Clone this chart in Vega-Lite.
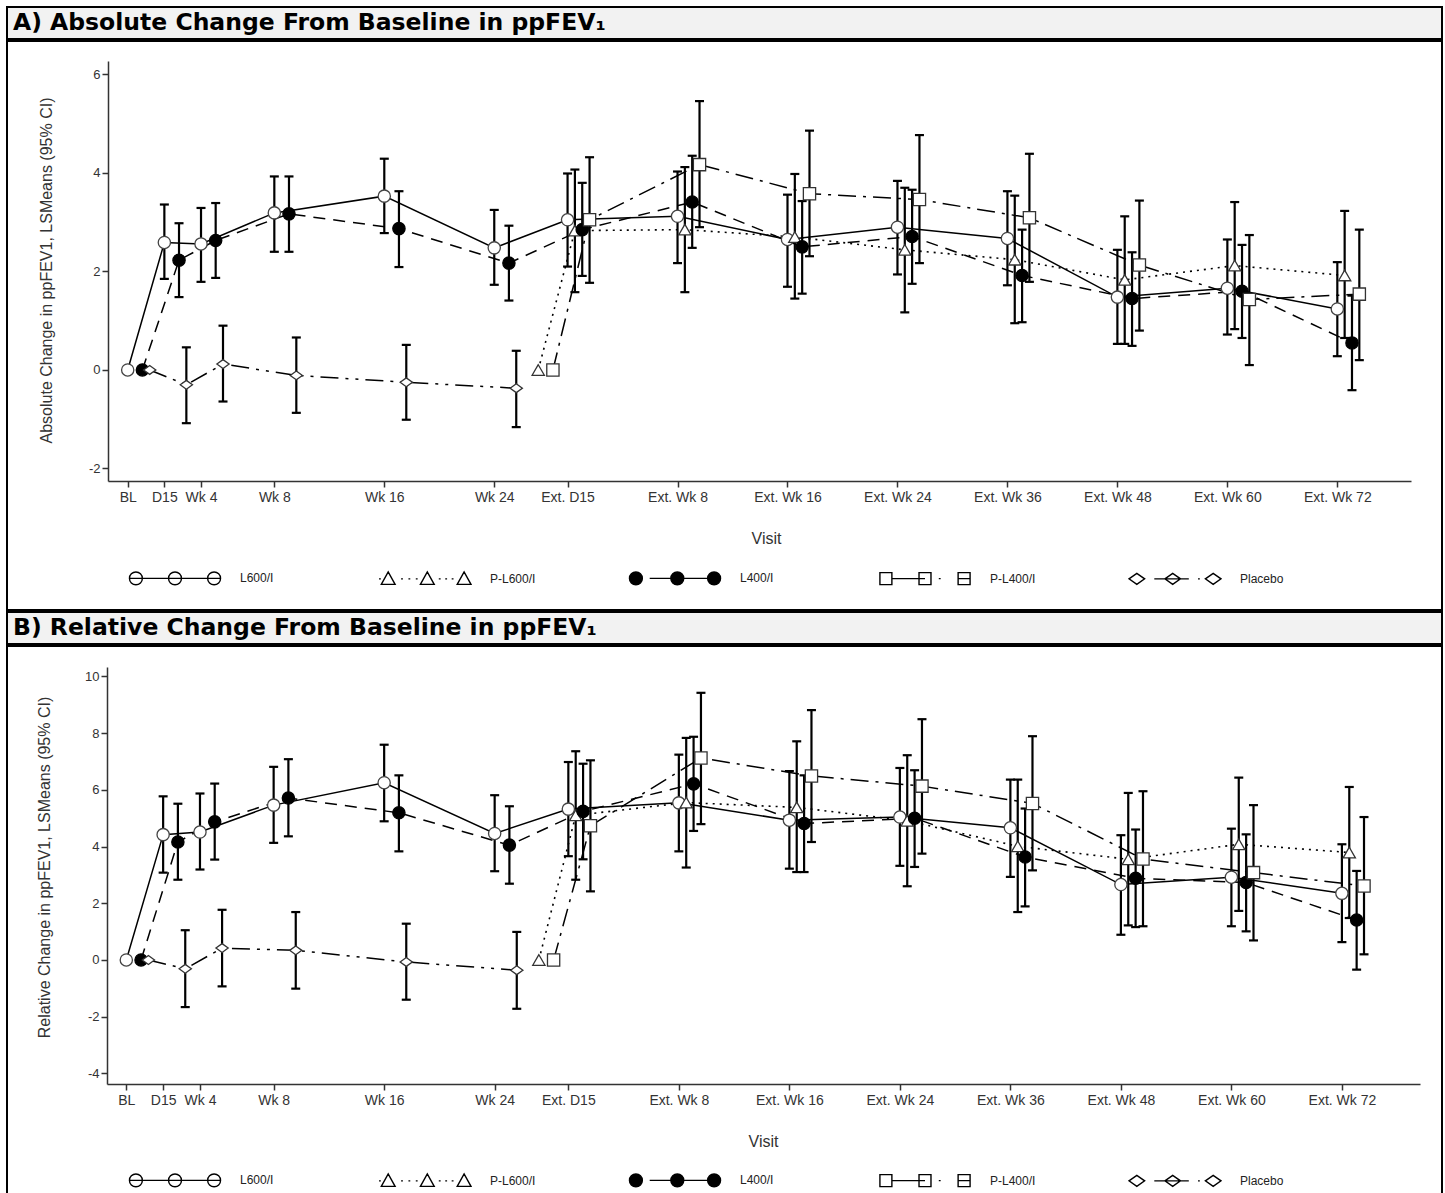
{
 "$schema": "https://vega.github.io/schema/vega-lite/v6.json",
 "background": "white",
 "padding": {"left": 6, "top": 6, "right": 4, "bottom": 0},
 "spacing": 0,
 "resolve": {
  "scale": {"shape": "independent", "fill": "independent", "stroke": "independent"},
  "legend": {"shape": "independent", "fill": "independent", "stroke": "independent"}
 },
 "datasets": {
  "absA": [
   {"g":"L600/I","t":0,"m":0},
   {"g":"L600/I","t":1,"m":2.59,"lo":1.85,"hi":3.36},
   {"g":"L600/I","t":2,"m":2.56,"lo":1.79,"hi":3.29},
   {"g":"L600/I","t":4,"m":3.19,"lo":2.40,"hi":3.93},
   {"g":"L600/I","t":7,"m":3.53,"lo":2.78,"hi":4.29},
   {"g":"L600/I","t":10,"m":2.48,"lo":1.73,"hi":3.25},
   {"g":"L600/I","t":12,"m":3.05,"lo":2.10,"hi":3.99},
   {"g":"L600/I","t":15,"m":3.12,"lo":2.17,"hi":4.03},
   {"g":"L600/I","t":18,"m":2.65,"lo":1.69,"hi":3.56},
   {"g":"L600/I","t":21,"m":2.90,"lo":1.94,"hi":3.84},
   {"g":"L600/I","t":24,"m":2.67,"lo":1.72,"hi":3.63},
   {"g":"L600/I","t":27,"m":1.48,"lo":0.53,"hi":2.44},
   {"g":"L600/I","t":30,"m":1.66,"lo":0.72,"hi":2.65},
   {"g":"L600/I","t":33,"m":1.24,"lo":0.28,"hi":2.19},
   {"g":"P-L600/I","t":11.2,"m":0},
   {"g":"P-L600/I","t":12.2,"m":2.83,"lo":1.58,"hi":4.07},
   {"g":"P-L600/I","t":15.2,"m":2.85,"lo":1.58,"hi":4.12},
   {"g":"P-L600/I","t":18.2,"m":2.70,"lo":1.45,"hi":3.98},
   {"g":"P-L600/I","t":21.2,"m":2.44,"lo":1.17,"hi":3.70},
   {"g":"P-L600/I","t":24.2,"m":2.24,"lo":0.95,"hi":3.54},
   {"g":"P-L600/I","t":27.2,"m":1.83,"lo":0.53,"hi":3.12},
   {"g":"P-L600/I","t":30.2,"m":2.12,"lo":0.83,"hi":3.41},
   {"g":"P-L600/I","t":33.2,"m":1.92,"lo":0.65,"hi":3.23},
   {"g":"L400/I","t":0.4,"m":0},
   {"g":"L400/I","t":1.4,"m":2.23,"lo":1.48,"hi":2.98},
   {"g":"L400/I","t":2.4,"m":2.63,"lo":1.87,"hi":3.39},
   {"g":"L400/I","t":4.4,"m":3.17,"lo":2.40,"hi":3.93},
   {"g":"L400/I","t":7.4,"m":2.87,"lo":2.09,"hi":3.63},
   {"g":"L400/I","t":10.4,"m":2.17,"lo":1.41,"hi":2.93},
   {"g":"L400/I","t":12.4,"m":2.85,"lo":1.91,"hi":3.80},
   {"g":"L400/I","t":15.4,"m":3.41,"lo":2.48,"hi":4.35},
   {"g":"L400/I","t":18.4,"m":2.50,"lo":1.55,"hi":3.43},
   {"g":"L400/I","t":21.4,"m":2.71,"lo":1.75,"hi":3.66},
   {"g":"L400/I","t":24.4,"m":1.92,"lo":0.97,"hi":2.85},
   {"g":"L400/I","t":27.4,"m":1.45,"lo":0.49,"hi":2.39},
   {"g":"L400/I","t":30.4,"m":1.60,"lo":0.65,"hi":2.54},
   {"g":"L400/I","t":33.4,"m":0.55,"lo":-0.41,"hi":1.51},
   {"g":"P-L400/I","t":11.6,"m":0},
   {"g":"P-L400/I","t":12.6,"m":3.05,"lo":1.77,"hi":4.32},
   {"g":"P-L400/I","t":15.6,"m":4.17,"lo":2.90,"hi":5.46},
   {"g":"P-L400/I","t":18.6,"m":3.58,"lo":2.31,"hi":4.86},
   {"g":"P-L400/I","t":21.6,"m":3.46,"lo":2.17,"hi":4.77},
   {"g":"P-L400/I","t":24.6,"m":3.09,"lo":1.79,"hi":4.39},
   {"g":"P-L400/I","t":27.6,"m":2.13,"lo":0.80,"hi":3.44},
   {"g":"P-L400/I","t":30.6,"m":1.43,"lo":0.10,"hi":2.74},
   {"g":"P-L400/I","t":33.6,"m":1.54,"lo":0.20,"hi":2.85},
   {"g":"Placebo","t":0.6,"m":0},
   {"g":"Placebo","t":1.6,"m":-0.30,"lo":-1.08,"hi":0.46},
   {"g":"Placebo","t":2.6,"m":0.12,"lo":-0.64,"hi":0.90},
   {"g":"Placebo","t":4.6,"m":-0.11,"lo":-0.87,"hi":0.66},
   {"g":"Placebo","t":7.6,"m":-0.25,"lo":-1.01,"hi":0.51},
   {"g":"Placebo","t":10.6,"m":-0.37,"lo":-1.16,"hi":0.39}
  ],
  "relB": [
   {"g":"L600/I","t":0,"m":0},
   {"g":"L600/I","t":1,"m":4.42,"lo":3.08,"hi":5.77},
   {"g":"L600/I","t":2,"m":4.51,"lo":3.19,"hi":5.87},
   {"g":"L600/I","t":4,"m":5.46,"lo":4.13,"hi":6.81},
   {"g":"L600/I","t":7,"m":6.25,"lo":4.89,"hi":7.59},
   {"g":"L600/I","t":10,"m":4.46,"lo":3.13,"hi":5.81},
   {"g":"L600/I","t":12,"m":5.32,"lo":3.66,"hi":6.98},
   {"g":"L600/I","t":15,"m":5.54,"lo":3.83,"hi":7.24},
   {"g":"L600/I","t":18,"m":4.93,"lo":3.22,"hi":6.66},
   {"g":"L600/I","t":21,"m":5.04,"lo":3.32,"hi":6.77},
   {"g":"L600/I","t":24,"m":4.66,"lo":2.93,"hi":6.36},
   {"g":"L600/I","t":27,"m":2.66,"lo":0.89,"hi":4.40},
   {"g":"L600/I","t":30,"m":2.92,"lo":1.19,"hi":4.63},
   {"g":"L600/I","t":33,"m":2.35,"lo":0.63,"hi":4.08},
   {"g":"P-L600/I","t":11.2,"m":0},
   {"g":"P-L600/I","t":12.2,"m":5.10,"lo":2.83,"hi":7.36},
   {"g":"P-L600/I","t":15.2,"m":5.55,"lo":3.26,"hi":7.83},
   {"g":"P-L600/I","t":18.2,"m":5.38,"lo":3.10,"hi":7.71},
   {"g":"P-L600/I","t":21.2,"m":4.91,"lo":2.60,"hi":7.22},
   {"g":"P-L600/I","t":24.2,"m":4.01,"lo":1.69,"hi":6.36},
   {"g":"P-L600/I","t":27.2,"m":3.55,"lo":1.22,"hi":5.89},
   {"g":"P-L600/I","t":30.2,"m":4.08,"lo":1.73,"hi":6.43},
   {"g":"P-L600/I","t":33.2,"m":3.79,"lo":1.48,"hi":6.10},
   {"g":"L400/I","t":0.4,"m":0},
   {"g":"L400/I","t":1.4,"m":4.16,"lo":2.83,"hi":5.51},
   {"g":"L400/I","t":2.4,"m":4.87,"lo":3.54,"hi":6.22},
   {"g":"L400/I","t":4.4,"m":5.71,"lo":4.36,"hi":7.08},
   {"g":"L400/I","t":7.4,"m":5.19,"lo":3.83,"hi":6.51},
   {"g":"L400/I","t":10.4,"m":4.05,"lo":2.69,"hi":5.42},
   {"g":"L400/I","t":12.4,"m":5.24,"lo":3.55,"hi":6.92},
   {"g":"L400/I","t":15.4,"m":6.21,"lo":4.55,"hi":7.87},
   {"g":"L400/I","t":18.4,"m":4.81,"lo":3.10,"hi":6.51},
   {"g":"L400/I","t":21.4,"m":5.00,"lo":3.28,"hi":6.69},
   {"g":"L400/I","t":24.4,"m":3.63,"lo":1.89,"hi":5.34},
   {"g":"L400/I","t":27.4,"m":2.88,"lo":1.16,"hi":4.60},
   {"g":"L400/I","t":30.4,"m":2.73,"lo":1.01,"hi":4.43},
   {"g":"L400/I","t":33.4,"m":1.41,"lo":-0.34,"hi":3.14},
   {"g":"P-L400/I","t":11.6,"m":0},
   {"g":"P-L400/I","t":12.6,"m":4.73,"lo":2.42,"hi":7.04},
   {"g":"P-L400/I","t":15.6,"m":7.12,"lo":4.79,"hi":9.42},
   {"g":"P-L400/I","t":18.6,"m":6.49,"lo":4.16,"hi":8.81},
   {"g":"P-L400/I","t":21.6,"m":6.13,"lo":3.75,"hi":8.49},
   {"g":"P-L400/I","t":24.6,"m":5.52,"lo":3.16,"hi":7.89},
   {"g":"P-L400/I","t":27.6,"m":3.56,"lo":1.19,"hi":5.95},
   {"g":"P-L400/I","t":30.6,"m":3.08,"lo":0.69,"hi":5.46},
   {"g":"P-L400/I","t":33.6,"m":2.61,"lo":0.20,"hi":5.04},
   {"g":"Placebo","t":0.6,"m":0},
   {"g":"Placebo","t":1.6,"m":-0.31,"lo":-1.66,"hi":1.05},
   {"g":"Placebo","t":2.6,"m":0.42,"lo":-0.93,"hi":1.77},
   {"g":"Placebo","t":4.6,"m":0.34,"lo":-1.01,"hi":1.69},
   {"g":"Placebo","t":7.6,"m":-0.07,"lo":-1.40,"hi":1.28},
   {"g":"Placebo","t":10.6,"m":-0.36,"lo":-1.72,"hi":0.99}
  ]
 },
 "vconcat": [
  {
   "width": 1435, "height": 32,
   "view": {"fill": "#f2f2f2", "stroke": "black", "strokeWidth": 2},
   "data": {"values": [{"label": "A) Absolute Change From Baseline in ppFEV₁"}]},
   "mark": {"type": "text", "align": "left", "baseline": "middle", "font": "DejaVu Sans", "fontWeight": "bold", "fontSize": 23.5, "dx": 6, "color": "black"},
   "encoding": {
    "text": {"field": "label"},
    "x": {"datum": 0, "type": "quantitative", "scale": {"domain": [0, 1]}, "axis": null},
    "y": {"datum": 0.5, "type": "quantitative", "scale": {"domain": [0, 1]}, "axis": null}
   }
  },
  {
   "width": 1435, "height": 569,
   "view": {"stroke": "black", "strokeWidth": 2},
   "data": {"name": "absA"},
   "encoding": {
    "x": {"field": "t", "type": "quantitative",
     "scale": {"domain": [-0.5375, 35.01], "range": [101, 1404], "nice": false, "zero": false},
     "axis": {"values": [0,1,2,4,7,10,12,15,18,21,24,27,30,33],
      "labelExpr": "datum.value==0?'BL':datum.value==1?'D15':datum.value==2?'Wk 4':datum.value==4?'Wk 8':datum.value==7?'Wk 16':datum.value==10?'Wk 24':datum.value==12?'Ext. D15':datum.value==15?'Ext. Wk 8':datum.value==18?'Ext. Wk 16':datum.value==21?'Ext. Wk 24':datum.value==24?'Ext. Wk 36':datum.value==27?'Ext. Wk 48':datum.value==30?'Ext. Wk 60':'Ext. Wk 72'",
      "offset": -129, "title": "Visit", "titleX": 759, "titleY": 57, "titleAlign": "center", "titleBaseline": "middle",
      "labelFlush": false, "labelOverlap": false, "labelBound": false, "labelPadding": 3}},
    "y": {"field": "m", "type": "quantitative",
     "scale": {"domain": [-2.254, 6.274], "range": [440, 20], "nice": false, "zero": false},
     "axis": {"values": [-2,0,2,4,6], "labelExpr": "'' + datum.value", "offset": -101, "title": "Absolute Change in ppFEV1, LSMeans (95% CI)",
      "titleX": -62, "titleY": 229, "titleAlign": "center", "titleBaseline": "middle", "titleAngle": -90}}
   },
   "layer": [
    {"transform": [{"filter": "datum.g === 'L600/I'"}], "mark": {"type": "line", "color": "black", "strokeWidth": 1.5}},
    {"transform": [{"filter": "datum.g === 'P-L600/I'"}], "mark": {"type": "line", "color": "black", "strokeWidth": 1.6, "strokeDash": [2, 5]}},
    {"transform": [{"filter": "datum.g === 'L400/I'"}], "mark": {"type": "line", "color": "black", "strokeWidth": 1.5, "strokeDash": [12, 8]}},
    {"transform": [{"filter": "datum.g === 'P-L400/I'"}], "mark": {"type": "line", "color": "black", "strokeWidth": 1.5, "strokeDash": [18, 7, 3, 7]}},
    {"transform": [{"filter": "datum.g === 'Placebo'"}], "mark": {"type": "line", "color": "black", "strokeWidth": 1.5, "strokeDash": [18, 7, 3, 7, 3, 7]}},
    {
     "transform": [{"filter": "isValid(datum.lo)"}],
     "mark": {"type": "rule", "color": "black", "strokeWidth": 2.2},
     "encoding": {"y": {"field": "lo", "type": "quantitative"}, "y2": {"field": "hi"}}
    },
    {
     "transform": [{"filter": "isValid(datum.lo)"}],
     "mark": {"type": "tick", "orient": "horizontal", "color": "black", "size": 9, "thickness": 2.2, "opacity": 1},
     "encoding": {"y": {"field": "lo", "type": "quantitative"}}
    },
    {
     "transform": [{"filter": "isValid(datum.lo)"}],
     "mark": {"type": "tick", "orient": "horizontal", "color": "black", "size": 9, "thickness": 2.2, "opacity": 1},
     "encoding": {"y": {"field": "hi", "type": "quantitative"}}
    },
    {"transform": [{"filter": "datum.g === 'L600/I'"}], "mark": {"type": "point", "shape": "circle", "filled": true, "fill": "white", "stroke": "#444", "strokeWidth": 1.3, "size": 150, "opacity": 1}},
    {"transform": [{"filter": "datum.g === 'P-L600/I'"}], "mark": {"type": "point", "shape": "triangle-up", "filled": true, "fill": "white", "stroke": "#333", "strokeWidth": 1.3, "size": 150, "opacity": 1}},
    {"transform": [{"filter": "datum.g === 'L400/I'"}], "mark": {"type": "point", "shape": "circle", "filled": true, "fill": "black", "stroke": "black", "strokeWidth": 1.3, "size": 150, "opacity": 1}},
    {"transform": [{"filter": "datum.g === 'P-L400/I'"}], "mark": {"type": "point", "shape": "square", "filled": true, "fill": "white", "stroke": "#333", "strokeWidth": 1.3, "size": 150, "opacity": 1}},
    {"transform": [{"filter": "datum.g === 'Placebo'"}], "mark": {"type": "point", "shape": "M-1,0L0,-0.72L1,0L0,0.72Z", "filled": true, "fill": "white", "stroke": "#333", "strokeWidth": 1.3, "size": 150, "opacity": 1}},
    {
     "transform": [{"filter": "datum.t < -100"}],
     "mark": {"type": "point", "filled": true, "strokeWidth": 1.4, "opacity": 1},
     "encoding": {
      "shape": {"field": "g", "type": "nominal",
       "scale": {"domain": ["L600/I","P-L600/I","L400/I","P-L400/I","Placebo"], "range": [
        "M-1,0L1,0M-0.99,0A0.14,0.14,0,1,0,-0.71,0A0.14,0.14,0,1,0,-0.99,0ZM-0.14,0A0.14,0.14,0,1,0,0.14,0A0.14,0.14,0,1,0,-0.14,0ZM0.71,0A0.14,0.14,0,1,0,0.99,0A0.14,0.14,0,1,0,0.71,0Z",
        "M-1,0L-0.96,0M-0.95,0.12L-0.8,-0.15L-0.65,0.12ZM-0.52,0L-0.48,0M-0.36,0L-0.32,0M-0.2,0L-0.16,0M-0.1,0.12L0.05,-0.15L0.2,0.12ZM0.3,0L0.34,0M0.44,0L0.48,0M0.58,0L0.62,0M0.7,0.12L0.85,-0.15L1,0.12Z",
        "M-0.55,0L0.85,0M-0.99,0A0.14,0.14,0,1,0,-0.71,0A0.14,0.14,0,1,0,-0.99,0ZM-0.09,0A0.14,0.14,0,1,0,0.19,0A0.14,0.14,0,1,0,-0.09,0ZM0.71,0A0.14,0.14,0,1,0,0.99,0A0.14,0.14,0,1,0,0.71,0Z",
        "M-0.98,-0.13L-0.72,-0.13L-0.72,0.13L-0.98,0.13ZM-0.72,0L0,0M-0.13,-0.13L0.13,-0.13L0.13,0.13L-0.13,0.13ZM0.3,0L0.34,0M0.72,-0.13L0.98,-0.13L0.98,0.13L0.72,0.13ZM0.72,0L0.98,0",
        "M-1,0L-0.83,-0.12L-0.66,0L-0.83,0.12ZM-0.45,0L0.3,0M-0.22,0L-0.05,-0.12L0.12,0L-0.05,0.12ZM0.5,0L0.54,0M0.66,0L0.83,-0.12L1,0L0.83,0.12Z"]},
       "legend": {"orient": "none", "legendX": 121, "legendY": 490, "direction": "horizontal", "columns": 5, "title": null,
        "symbolSize": 8464, "symbolStrokeWidth": 1.4, "symbolStrokeColor": "black",
        "labelFont": "Liberation Sans", "labelFontSize": 12, "labelColor": "#222", "labelOffset": 18,
        "columnPadding": 90, "gridAlign": "all"}},
      "fill": {"field": "g", "type": "nominal",
       "scale": {"domain": ["L600/I","P-L600/I","L400/I","P-L400/I","Placebo"], "range": ["white","white","black","white","white"]}},
      "stroke": {"field": "g", "type": "nominal",
       "scale": {"domain": ["L600/I","P-L600/I","L400/I","P-L400/I","Placebo"], "range": ["black","black","black","black","black"]}}
     }
    }
   ]
  },
  {
   "width": 1435, "height": 32,
   "view": {"fill": "#f2f2f2", "stroke": "black", "strokeWidth": 2},
   "data": {"values": [{"label": "B) Relative Change From Baseline in ppFEV₁"}]},
   "mark": {"type": "text", "align": "left", "baseline": "middle", "font": "DejaVu Sans", "fontWeight": "bold", "fontSize": 23.5, "dx": 6, "color": "black"},
   "encoding": {
    "text": {"field": "label"},
    "x": {"datum": 0, "type": "quantitative", "scale": {"domain": [0, 1]}, "axis": null},
    "y": {"datum": 0.5, "type": "quantitative", "scale": {"domain": [0, 1]}, "axis": null}
   }
  },
  {
   "width": 1435, "height": 556,
   "view": {"stroke": "black", "strokeWidth": 2},
   "data": {"name": "relB"},
   "encoding": {
    "x": {"field": "t", "type": "quantitative",
     "scale": {"domain": [-0.524, 35.12], "range": [100, 1413], "nice": false, "zero": false},
     "axis": {"values": [0,1,2,4,7,10,12,15,18,21,24,27,30,33],
      "labelExpr": "datum.value==0?'BL':datum.value==1?'D15':datum.value==2?'Wk 4':datum.value==4?'Wk 8':datum.value==7?'Wk 16':datum.value==10?'Wk 24':datum.value==12?'Ext. D15':datum.value==15?'Ext. Wk 8':datum.value==18?'Ext. Wk 16':datum.value==21?'Ext. Wk 24':datum.value==24?'Ext. Wk 36':datum.value==27?'Ext. Wk 48':datum.value==30?'Ext. Wk 60':'Ext. Wk 72'",
      "offset": -118, "title": "Visit", "titleX": 756, "titleY": 57, "titleAlign": "center", "titleBaseline": "middle",
      "labelFlush": false, "labelOverlap": false, "labelBound": false, "labelPadding": 3}},
    "y": {"field": "m", "type": "quantitative",
     "scale": {"domain": [-4.372, 10.33], "range": [438, 21], "nice": false, "zero": false},
     "axis": {"values": [-4,-2,0,2,4,6,8,10], "labelExpr": "'' + datum.value", "offset": -100, "title": "Relative Change in ppFEV1, LSMeans (95% CI)",
      "titleX": -63, "titleY": 221, "titleAlign": "center", "titleBaseline": "middle", "titleAngle": -90}}
   },
   "layer": [
    {"transform": [{"filter": "datum.g === 'L600/I'"}], "mark": {"type": "line", "color": "black", "strokeWidth": 1.5}},
    {"transform": [{"filter": "datum.g === 'P-L600/I'"}], "mark": {"type": "line", "color": "black", "strokeWidth": 1.6, "strokeDash": [2, 5]}},
    {"transform": [{"filter": "datum.g === 'L400/I'"}], "mark": {"type": "line", "color": "black", "strokeWidth": 1.5, "strokeDash": [12, 8]}},
    {"transform": [{"filter": "datum.g === 'P-L400/I'"}], "mark": {"type": "line", "color": "black", "strokeWidth": 1.5, "strokeDash": [18, 7, 3, 7]}},
    {"transform": [{"filter": "datum.g === 'Placebo'"}], "mark": {"type": "line", "color": "black", "strokeWidth": 1.5, "strokeDash": [18, 7, 3, 7, 3, 7]}},
    {
     "transform": [{"filter": "isValid(datum.lo)"}],
     "mark": {"type": "rule", "color": "black", "strokeWidth": 2.2},
     "encoding": {"y": {"field": "lo", "type": "quantitative"}, "y2": {"field": "hi"}}
    },
    {
     "transform": [{"filter": "isValid(datum.lo)"}],
     "mark": {"type": "tick", "orient": "horizontal", "color": "black", "size": 9, "thickness": 2.2, "opacity": 1},
     "encoding": {"y": {"field": "lo", "type": "quantitative"}}
    },
    {
     "transform": [{"filter": "isValid(datum.lo)"}],
     "mark": {"type": "tick", "orient": "horizontal", "color": "black", "size": 9, "thickness": 2.2, "opacity": 1},
     "encoding": {"y": {"field": "hi", "type": "quantitative"}}
    },
    {"transform": [{"filter": "datum.g === 'L600/I'"}], "mark": {"type": "point", "shape": "circle", "filled": true, "fill": "white", "stroke": "#444", "strokeWidth": 1.3, "size": 150, "opacity": 1}},
    {"transform": [{"filter": "datum.g === 'P-L600/I'"}], "mark": {"type": "point", "shape": "triangle-up", "filled": true, "fill": "white", "stroke": "#333", "strokeWidth": 1.3, "size": 150, "opacity": 1}},
    {"transform": [{"filter": "datum.g === 'L400/I'"}], "mark": {"type": "point", "shape": "circle", "filled": true, "fill": "black", "stroke": "black", "strokeWidth": 1.3, "size": 150, "opacity": 1}},
    {"transform": [{"filter": "datum.g === 'P-L400/I'"}], "mark": {"type": "point", "shape": "square", "filled": true, "fill": "white", "stroke": "#333", "strokeWidth": 1.3, "size": 150, "opacity": 1}},
    {"transform": [{"filter": "datum.g === 'Placebo'"}], "mark": {"type": "point", "shape": "M-1,0L0,-0.72L1,0L0,0.72Z", "filled": true, "fill": "white", "stroke": "#333", "strokeWidth": 1.3, "size": 150, "opacity": 1}},
    {
     "transform": [{"filter": "datum.t < -100"}],
     "mark": {"type": "point", "filled": true, "strokeWidth": 1.4, "opacity": 1},
     "encoding": {
      "shape": {"field": "g", "type": "nominal",
       "scale": {"domain": ["L600/I","P-L600/I","L400/I","P-L400/I","Placebo"], "range": [
        "M-1,0L1,0M-0.99,0A0.14,0.14,0,1,0,-0.71,0A0.14,0.14,0,1,0,-0.99,0ZM-0.14,0A0.14,0.14,0,1,0,0.14,0A0.14,0.14,0,1,0,-0.14,0ZM0.71,0A0.14,0.14,0,1,0,0.99,0A0.14,0.14,0,1,0,0.71,0Z",
        "M-1,0L-0.96,0M-0.95,0.12L-0.8,-0.15L-0.65,0.12ZM-0.52,0L-0.48,0M-0.36,0L-0.32,0M-0.2,0L-0.16,0M-0.1,0.12L0.05,-0.15L0.2,0.12ZM0.3,0L0.34,0M0.44,0L0.48,0M0.58,0L0.62,0M0.7,0.12L0.85,-0.15L1,0.12Z",
        "M-0.55,0L0.85,0M-0.99,0A0.14,0.14,0,1,0,-0.71,0A0.14,0.14,0,1,0,-0.99,0ZM-0.09,0A0.14,0.14,0,1,0,0.19,0A0.14,0.14,0,1,0,-0.09,0ZM0.71,0A0.14,0.14,0,1,0,0.99,0A0.14,0.14,0,1,0,0.71,0Z",
        "M-0.98,-0.13L-0.72,-0.13L-0.72,0.13L-0.98,0.13ZM-0.72,0L0,0M-0.13,-0.13L0.13,-0.13L0.13,0.13L-0.13,0.13ZM0.3,0L0.34,0M0.72,-0.13L0.98,-0.13L0.98,0.13L0.72,0.13ZM0.72,0L0.98,0",
        "M-1,0L-0.83,-0.12L-0.66,0L-0.83,0.12ZM-0.45,0L0.3,0M-0.22,0L-0.05,-0.12L0.12,0L-0.05,0.12ZM0.5,0L0.54,0M0.66,0L0.83,-0.12L1,0L0.83,0.12Z"]},
       "legend": {"orient": "none", "legendX": 121, "legendY": 487, "direction": "horizontal", "columns": 5, "title": null,
        "symbolSize": 8464, "symbolStrokeWidth": 1.4, "symbolStrokeColor": "black",
        "labelFont": "Liberation Sans", "labelFontSize": 12, "labelColor": "#222", "labelOffset": 18,
        "columnPadding": 90, "gridAlign": "all"}},
      "fill": {"field": "g", "type": "nominal",
       "scale": {"domain": ["L600/I","P-L600/I","L400/I","P-L400/I","Placebo"], "range": ["white","white","black","white","white"]}},
      "stroke": {"field": "g", "type": "nominal",
       "scale": {"domain": ["L600/I","P-L600/I","L400/I","P-L400/I","Placebo"], "range": ["black","black","black","black","black"]}}
     }
    }
   ]
  }
 ],
 "config": {
  "font": "Liberation Sans",
  "axis": {"domainColor": "#333", "domainWidth": 1.5, "tickColor": "#333", "tickWidth": 1.5, "tickSize": 6,
   "labelColor": "#333", "labelFont": "Liberation Sans", "labelFontSize": 14,
   "titleFont": "Liberation Sans", "titleFontSize": 16, "titleFontWeight": "normal", "titleColor": "#333", "grid": false},
  "axisY": {"labelFontSize": 13}
 }
}
